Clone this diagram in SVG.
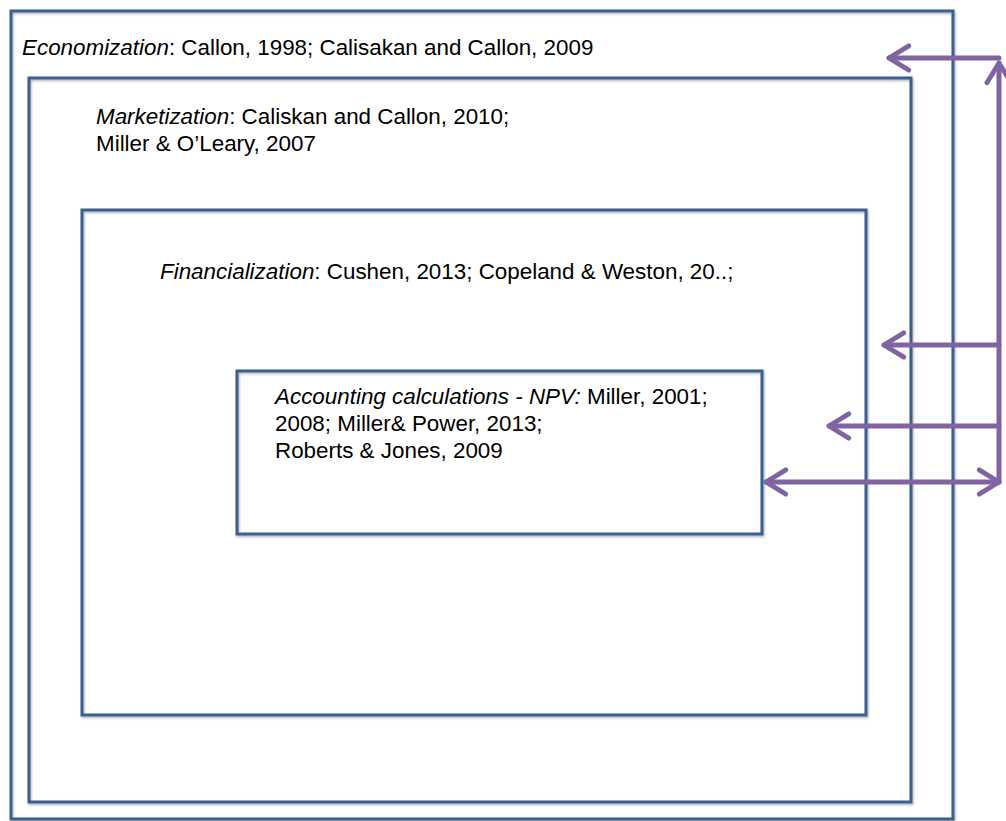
<svg xmlns="http://www.w3.org/2000/svg" width="1006" height="821" viewBox="0 0 1006 821">
<style>
.box{fill:none;stroke:#3B5F8F;stroke-width:3}
.t{font-family:"Liberation Sans",Arial,sans-serif;font-size:22.4px;fill:#000}
.i{font-style:italic}
.c{fill:none;stroke:#8064A2;stroke-width:5;stroke-linecap:round;stroke-linejoin:round}
</style>
<defs>
<filter id="sh" x="-5%" y="-5%" width="110%" height="110%">
<feDropShadow dx="1" dy="1.5" stdDeviation="0.8" flood-color="#000" flood-opacity="0.3"/>
</filter>
<marker id="ah" viewBox="0 0 12 12" refX="10" refY="6" markerWidth="5.28" markerHeight="5.28" orient="auto-start-reverse" markerUnits="strokeWidth" overflow="visible">
<path d="M1,0.5 L10,6 L1,11.5" fill="none" stroke="#8064A2" stroke-width="2.2" stroke-linecap="round" stroke-linejoin="round"/>
</marker>
</defs>
<rect width="1006" height="821" fill="#fff"/>
<g id="economization">
<rect class="box" x="11" y="11" width="942" height="808" filter="url(#sh)"/>
<text class="t" x="22" y="55"><tspan class="i">Economization</tspan>: Callon, 1998; Calisakan and Callon, 2009</text>
</g>
<g id="marketization">
<rect class="box" x="29" y="78" width="882" height="724" filter="url(#sh)"/>
<text class="t" x="96" y="124"><tspan class="i">Marketization</tspan>: Caliskan and Callon, 2010;</text>
<text class="t" x="96" y="151">Miller &amp; O’Leary, 2007</text>
</g>
<g id="financialization">
<rect class="box" x="82" y="210" width="784" height="505" filter="url(#sh)"/>
<text class="t" x="160" y="279"><tspan class="i">Financialization</tspan>: Cushen, 2013; Copeland &amp; Weston, 20..;</text>
</g>
<g id="accounting">
<rect class="box" x="237" y="371" width="525" height="163" filter="url(#sh)"/>
<text class="t" x="275" y="404"><tspan class="i">Accounting calculations - NPV:</tspan> Miller, 2001;</text>
<text class="t" x="275" y="431">2008; Miller&amp; Power, 2013;</text>
<text class="t" x="275" y="458">Roberts &amp; Jones, 2009</text>
</g>
<g id="connectors">
<line class="c" x1="999" y1="482" x2="999" y2="63" marker-end="url(#ah)"/>
<line class="c" x1="999" y1="58" x2="889" y2="58" marker-end="url(#ah)"/>
<line class="c" x1="999" y1="345" x2="884" y2="345" marker-end="url(#ah)"/>
<line class="c" x1="999" y1="426" x2="829" y2="426" marker-end="url(#ah)"/>
<line class="c" x1="766" y1="482" x2="999" y2="482" marker-start="url(#ah)" marker-end="url(#ah)"/>
</g>
</svg>
